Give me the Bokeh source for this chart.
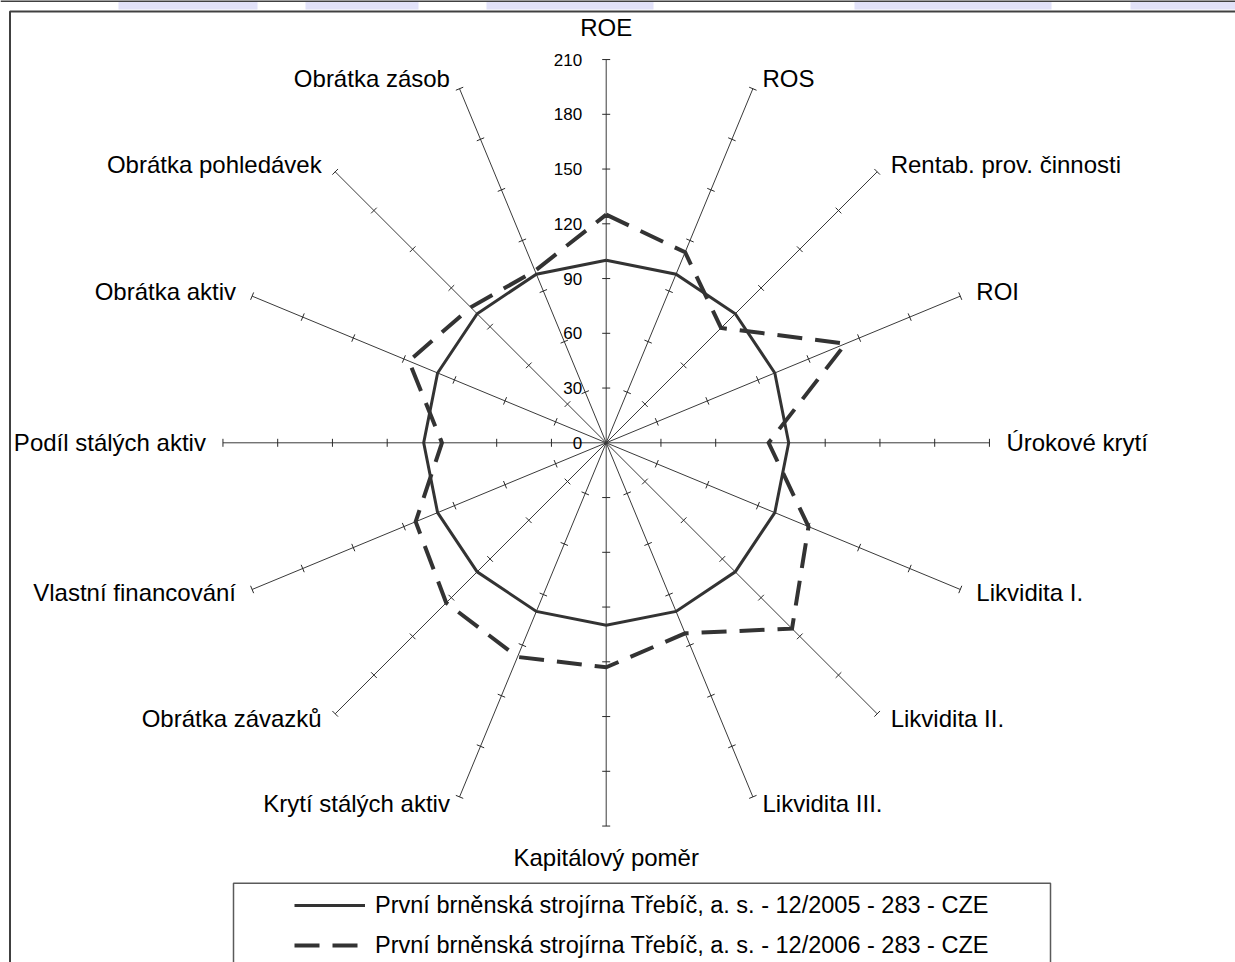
import math
from bokeh.plotting import figure
from bokeh.models import Range1d, Legend, LegendItem
from bokeh.embed import file_html
from bokeh.resources import INLINE
from bokeh.core.properties import value

# ---------------- data ----------------
categories = [
    "ROE", "ROS", "Rentab. prov. činnosti", "ROI", "Úrokové krytí",
    "Likvidita I.", "Likvidita II.", "Likvidita III.", "Kapitálový poměr",
    "Krytí stálých aktiv", "Obrátka závazků", "Vlastní financování",
    "Podíl stálých aktiv", "Obrátka aktiv", "Obrátka pohledávek", "Obrátka zásob",
]
values_2005 = [100, 100, 100, 100, 100, 100, 100, 100, 100, 100, 100, 100, 100, 100, 100, 100]
values_2006 = [125, 113, 89, 142, 89, 120, 144, 113, 123, 127, 124, 113, 90, 117, 105, 102]
series_names = [
    "První brněnská strojírna Třebíč, a. s. - 12/2005 - 283 - CZE",
    "První brněnská strojírna Třebíč, a. s. - 12/2006 - 283 - CZE",
]
tick_values = [0, 30, 60, 90, 120, 150, 180, 210]
tick_labels = ["0", "30", "60", "90", "120", "150", "180", "210"]

# ---------------- geometry ----------------
FONT = "Liberation Sans"
PX = 1.825                 # screen pixels per value unit
W, H = 1235, 962
CX, CY = 605.7, 442.3      # centre of the radar in page pixels (from top-left)
RMAX = tick_values[-1]

def ref(xr, yr):
    """page pixel -> data units"""
    return (xr - CX) / PX, (CY - yr) / PX

p = figure(width=W, height=H,
           x_range=Range1d(-CX / PX, (W - CX) / PX),
           y_range=Range1d(-(H - CY) / PX, CY / PX),
           output_backend="svg", toolbar_location=None, min_border=0,
           x_axis_location=None, y_axis_location=None)
p.grid.visible = False
p.outline_line_color = None
p.background_fill_color = "white"

n = len(categories)
angles = [2 * math.pi * i / n for i in range(n)]   # clockwise from top

# sheet header strip above the chart
hx0, hy0 = ref(0, 0.5)
hx1, _ = ref(1235, 0.5)
p.line([hx0, hx1], [hy0, hy0], line_color="black", line_width=1.5)
strips = [(118, 257), (305, 418), (486, 653), (854, 1051), (1130, 1240)]
sl = [ref(a, 0)[0] for a, b in strips]
sr = [ref(b, 0)[0] for a, b in strips]
st = [ref(0, 1.5)[1]] * len(strips)
sb = [ref(0, 9)[1]] * len(strips)
p.quad(left=sl, right=sr, top=st, bottom=sb, fill_color="#e2e2f9", line_color=None)

# chart frame (left + top edge visible in the window)
fx0, fy0 = ref(9.5, 11)
fx1, fy1 = ref(1245, 975)
p.line([fx0, fx0, fx1], [fy1, fy0, fy0], line_color="#404040", line_width=2)

# spokes
ex = [RMAX * math.sin(a) for a in angles]
ey = [RMAX * math.cos(a) for a in angles]
p.segment(x0=[0] * n, y0=[0] * n, x1=ex, y1=ey, line_color="#3a3a3a", line_width=1)

# tick marks along every spoke
half = 4.0 / PX
tx0, ty0, tx1, ty1 = [], [], [], []
for a in angles:
    s, c = math.sin(a), math.cos(a)
    for v in tick_values[1:]:
        px_, py_ = v * s, v * c
        tx0.append(px_ - half * c); ty0.append(py_ + half * s)
        tx1.append(px_ + half * c); ty1.append(py_ - half * s)
p.segment(x0=tx0, y0=ty0, x1=tx1, y1=ty1, line_color="#2a2a2a", line_width=1)

# tick labels on the ROE spoke
p.text(x=[-24 / PX] * len(tick_values), y=tick_values, text=tick_labels,
       text_font=value(FONT), text_font_size="17px", text_align="right",
       text_baseline="middle", text_color="black")

# series
def polygon(vals):
    xs = [v * math.sin(a) for v, a in zip(vals, angles)]
    ys = [v * math.cos(a) for v, a in zip(vals, angles)]
    return xs + xs[:1], ys + ys[:1]

x1s, y1s = polygon(values_2005)
x2s, y2s = polygon(values_2006)
r1 = p.line(x1s, y1s, line_color="#333333", line_width=3, line_join="miter")
r2 = p.line(x2s, y2s, line_color="#333333", line_width=4, line_join="miter",
            line_dash="25 13")

# category labels, placed just beyond the end of each spoke
groups = {"left": ([], [], []), "right": ([], [], []), "center": ([], [], [])}
for cat, a in zip(categories, angles):
    s, c = math.sin(a), math.cos(a)
    bx, by = RMAX * s, RMAX * c
    if abs(s) < 0.1:
        groups["center"][0].append(bx)
        groups["center"][1].append(by + (32 if c > 0 else -31) / PX)
        groups["center"][2].append(cat)
    else:
        key = "left" if s > 0 else "right"
        dx = (5 + 12 * abs(s)) * (1 if s > 0 else -1)
        dy = 11 * c if c > 0 else 7 * c
        groups[key][0].append(bx + dx / PX)
        groups[key][1].append(by + dy / PX)
        groups[key][2].append(cat)
for align, (gx, gy, gt) in groups.items():
    p.text(x=gx, y=gy, text=gt, text_font=value(FONT), text_font_size="24px",
           text_align=align, text_baseline="middle", text_color="black")

# legend box
lx0, ly0 = ref(233, 882.7)
lx1, ly1 = ref(1050, 990)
p.quad(left=[lx0], right=[lx1], top=[ly0], bottom=[ly1], fill_color=None,
       line_color="#5a5a5a", line_width=1.5)

legend = Legend(items=[LegendItem(label=series_names[0], renderers=[r1]),
                       LegendItem(label=series_names[1], renderers=[r2])],
                location=(294, 2),
                border_line_color=None, background_fill_alpha=0,
                padding=0, spacing=10, margin=0,
                glyph_width=71, glyph_height=30, label_height=30,
                label_standoff=10, label_text_font=FONT,
                label_text_font_size="23.5px", label_text_color="black")
p.add_layout(legend)

open("out.html", "w").write(file_html(p, INLINE))
